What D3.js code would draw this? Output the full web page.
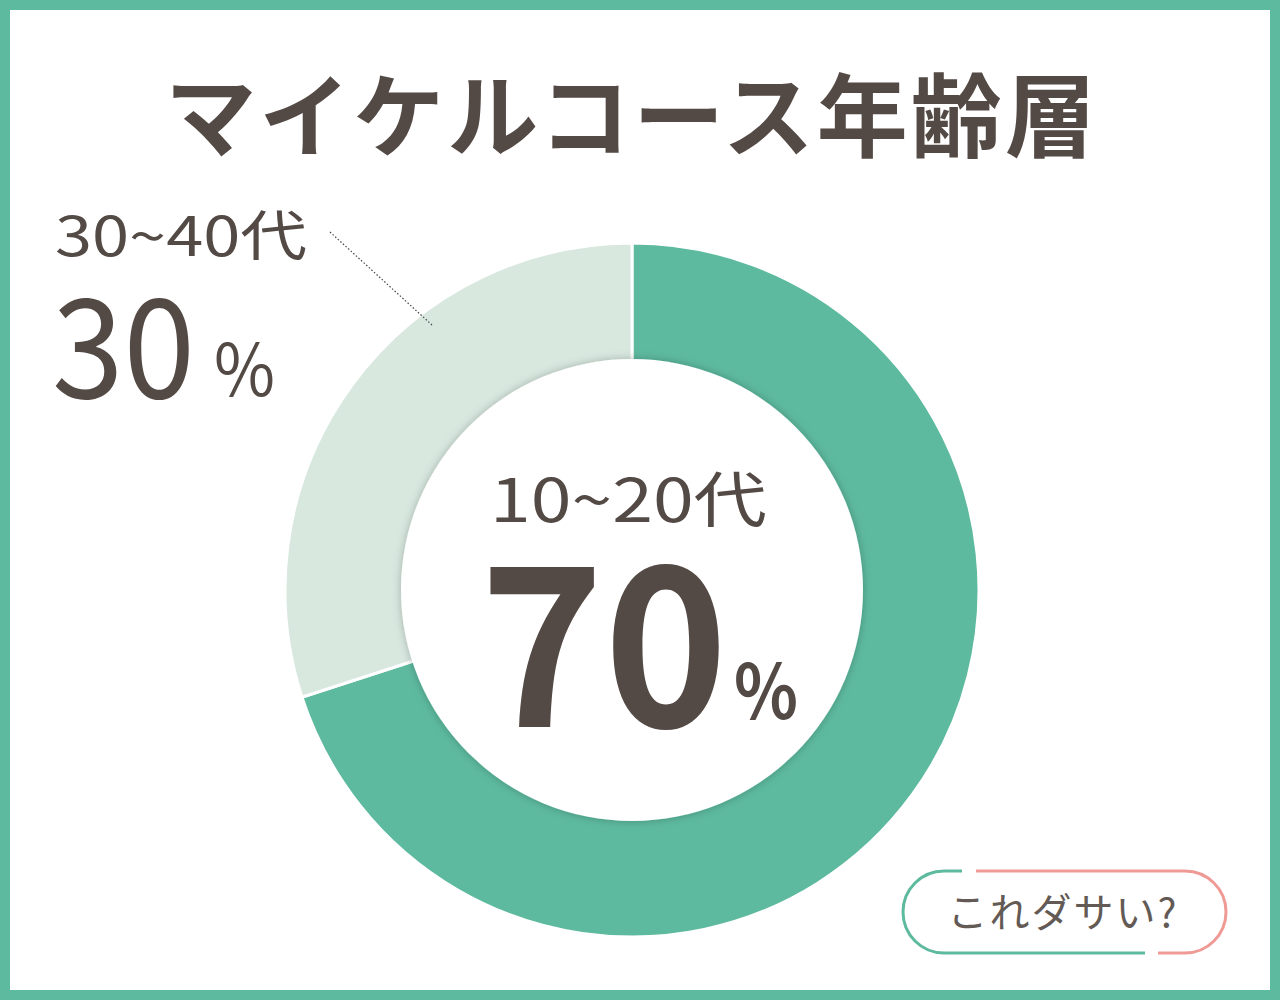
<!DOCTYPE html>
<html><head><meta charset="utf-8">
<script src="https://cdn.jsdelivr.net/npm/d3@7"></script>
<style>html,body{margin:0;padding:0;background:#fff;}svg{display:block;}</style>
</head><body>
<script>
const title = "マイケルコース年齢層";
const categories = ["10~20代", "30~40代"];
const values = [70, 30];
const colors = ["#5dba9e", "#d8e8df"];
const buttonText = "これダサい?";

const W = 1280, H = 1000;
const svg = d3.select("body").append("svg").attr("width", W).attr("height", H);
const font = "'Noto Sans CJK JP','Noto Sans',sans-serif";
const textColor = "#544a45";

// frame
svg.append("rect").attr("x", 0).attr("y", 0).attr("width", W).attr("height", H).attr("fill", "#5dba9e");
svg.append("rect").attr("x", 10).attr("y", 10).attr("width", W - 20).attr("height", H - 20).attr("fill", "#fff");

// title
svg.append("text").attr("x", 632).attr("y", 150).attr("text-anchor", "middle")
  .attr("font-family", font).attr("font-weight", 700).attr("font-size", 91)
  .attr("fill", textColor).attr("letter-spacing", 3).text(title);

// donut
const cx = 632, cy = 590, rOuter = 347, rInner = 231;
const defs = svg.append("defs");
const f = defs.append("filter").attr("id", "sh").attr("x", "-20%").attr("y", "-20%").attr("width", "140%").attr("height", "140%");
f.append("feDropShadow").attr("dx", 0).attr("dy", 0).attr("stdDeviation", 4).attr("flood-color", "#000").attr("flood-opacity", 0.25);

const pie = d3.pie().sort(null).value(d => d)(values);
const arc = d3.arc().innerRadius(rInner - 10).outerRadius(rOuter);
const g = svg.append("g").attr("transform", `translate(${cx},${cy})`);
g.selectAll("path.slice").data(pie).join("path").attr("class", "slice")
  .attr("d", arc).attr("fill", (d, i) => colors[i]).attr("stroke", "#fff").attr("stroke-width", 3);
g.append("circle").attr("r", rInner).attr("fill", "#fff").attr("filter", "url(#sh)");

// leader line
svg.append("line").attr("x1", 330).attr("y1", 232).attr("x2", 432).attr("y2", 325)
  .attr("stroke", "#444").attr("stroke-width", 1.2).attr("stroke-dasharray", "1.5,2");

// left label (30~40代)
svg.append("text").attr("x", 55).attr("y", 256).attr("font-family", font).attr("font-size", 54)
  .attr("fill", textColor).attr("textLength", 252).attr("lengthAdjust", "spacingAndGlyphs").text(categories[1]);
svg.append("text").attr("x", 52).attr("y", 398).attr("font-family", font).attr("font-size", 138)
  .attr("fill", textColor).attr("textLength", 143).attr("lengthAdjust", "spacingAndGlyphs").text(values[1]);
svg.append("text").attr("x", 214).attr("y", 396).attr("font-family", font).attr("font-size", 72)
  .attr("fill", textColor).attr("textLength", 61).attr("lengthAdjust", "spacingAndGlyphs").text("%");

// center label
svg.append("text").attr("x", 490).attr("y", 522).attr("font-family", font)
  .attr("font-size", 60).attr("fill", textColor).attr("textLength", 277).attr("lengthAdjust", "spacingAndGlyphs").text(categories[0]);
svg.append("text").attr("x", 480).attr("y", 727).attr("font-family", font).attr("font-weight", 700)
  .attr("font-size", 222).attr("fill", textColor).attr("textLength", 248).attr("lengthAdjust", "spacingAndGlyphs").text(values[0]);
svg.append("text").attr("x", 734).attr("y", 719).attr("font-family", font).attr("font-weight", 700)
  .attr("font-size", 76).attr("fill", textColor).attr("textLength", 64).attr("lengthAdjust", "spacingAndGlyphs").text("%");

// button
const bx0 = 903, bx1 = 1226, by0 = 871, by1 = 953, br = (by1 - by0) / 2;
const green = d3.path();
green.moveTo(962, by0); green.lineTo(bx0 + br, by0);
green.arc(bx0 + br, by0 + br, br, -Math.PI / 2, -3 * Math.PI / 2, true);
green.lineTo(1145, by1);
svg.append("path").attr("d", green.toString()).attr("fill", "none").attr("stroke", "#5dba9e").attr("stroke-width", 3);
const pink = d3.path();
pink.moveTo(976, by0); pink.lineTo(bx1 - br, by0);
pink.arc(bx1 - br, by0 + br, br, -Math.PI / 2, Math.PI / 2, false);
pink.lineTo(1158, by1);
svg.append("path").attr("d", pink.toString()).attr("fill", "none").attr("stroke", "#f09a96").attr("stroke-width", 3);
svg.append("text").attr("x", 1063).attr("y", 927).attr("text-anchor", "middle").attr("font-family", font)
  .attr("font-size", 40).attr("fill", "#645a55").attr("letter-spacing", 2).text(buttonText);
</script>
</body></html>
